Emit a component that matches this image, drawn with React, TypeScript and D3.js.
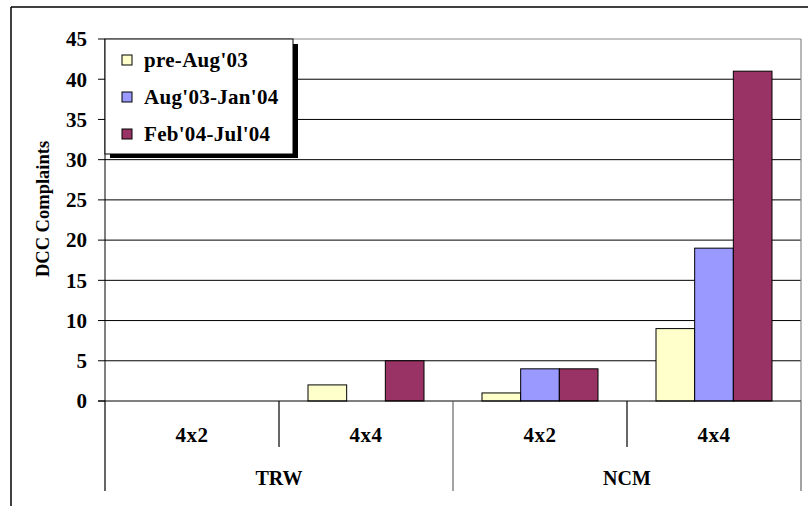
import React from "react";
import * as d3 from "d3";

const groups = ["TRW", "NCM"];
const categories = ["4x2", "4x4", "4x2", "4x4"];
const categoryGroup = [0, 0, 1, 1];
const seriesNames = ["pre-Aug'03", "Aug'03-Jan'04", "Feb'04-Jul'04"];
const seriesColors = ["#FFFFCC", "#9999FF", "#993366"];
const preAug03 = [0, 2, 1, 9];
const aug03Jan04 = [0, 0, 4, 19];
const feb04Jul04 = [0, 5, 4, 41];
const yTicks = [0, 5, 10, 15, 20, 25, 30, 35, 40, 45];

const W = 808;
const H = 506;
const FONT = "'Liberation Serif', 'Times New Roman', serif";

export default function App() {
  const series = [preAug03, aug03Jan04, feb04Jul04];
  const left = 105;
  const right = 801;
  const top = 39;
  const bottom = 401;

  const x = d3
    .scaleBand<number>()
    .domain(d3.range(categories.length))
    .range([left, right])
    .paddingInner(0)
    .paddingOuter(0);
  const y = d3.scaleLinear().domain([0, 45]).range([bottom, top]);
  const cw = x.bandwidth();
  const bw = cw / 4.5;
  const gap = (cw - 3 * bw) / 2;

  return (
    <svg
      width={W}
      height={H}
      style={{ position: "absolute", left: 0, top: 0, background: "#fff" }}
      fontFamily={FONT}
    >
      <rect x={0} y={0} width={W} height={H} fill="#fff" />
      {/* outer border */}
      <line x1={11} y1={7} x2={W} y2={7} stroke="#000" strokeWidth={1.5} />
      <line x1={11} y1={7} x2={11} y2={H} stroke="#000" strokeWidth={1.5} />

      {/* gridlines */}
      {yTicks.slice(1).map((t) => (
        <line
          key={"g" + t}
          x1={left}
          x2={right}
          y1={y(t)}
          y2={y(t)}
          stroke={t === 45 ? "#888" : "#000"}
          strokeWidth={1}
        />
      ))}
      {/* plot right border */}
      <line x1={right} x2={right} y1={top} y2={bottom} stroke="#888" strokeWidth={1.2} />

      {/* bars */}
      {series.map((vals, si) =>
        vals.map((v, ci) =>
          v > 0 ? (
            <rect
              key={`b${si}-${ci}`}
              x={(x(ci) as number) + gap + si * bw}
              y={y(v)}
              width={bw}
              height={y(0) - y(v)}
              fill={seriesColors[si]}
              stroke="#000"
              strokeWidth={1}
            />
          ) : null
        )
      )}

      {/* y axis */}
      <line x1={left} x2={left} y1={top} y2={bottom} stroke="#000" strokeWidth={1} />
      <line x1={left - 7} x2={right} y1={y(0)} y2={y(0)} stroke="#000" strokeWidth={1} />
      {yTicks.map((t) => (
        <g key={"t" + t}>
          <line x1={left - 7} x2={left} y1={y(t)} y2={y(t)} stroke="#000" strokeWidth={1} />
          <text
            x={87}
            y={y(t)}
            dy="0.35em"
            textAnchor="end"
            fontSize={21}
            fontWeight="bold"
          >
            {t}
          </text>
        </g>
      ))}

      {/* category dividers */}
      {d3.range(categories.length + 1).map((i) => {
        const xx = i < categories.length ? (x(i) as number) : right;
        const outer = i === 0 || i === categories.length || categoryGroup[i] !== categoryGroup[i - 1];
        return (
          <line
            key={"d" + i}
            x1={xx}
            x2={xx}
            y1={bottom}
            y2={outer ? 491 : 447}
            stroke={outer && i !== 0 ? "#666" : "#000"}
            strokeWidth={1.2}
          />
        );
      })}
      {categories.map((c, i) => (
        <text
          key={"c" + i}
          x={(x(i) as number) + cw / 2}
          y={435}
          dy="0.35em"
          textAnchor="middle"
          fontSize={21}
          fontWeight="bold"
          letterSpacing={0.5}
        >
          {c}
        </text>
      ))}
      {groups.map((g, gi) => {
        const idx = categoryGroup.map((v, i) => (v === gi ? i : -1)).filter((i) => i >= 0);
        const x0 = x(idx[0]) as number;
        const x1 = (x(idx[idx.length - 1]) as number) + cw;
        return (
          <text
            key={"grp" + g}
            x={(x0 + x1) / 2}
            y={478}
            dy="0.35em"
            textAnchor="middle"
            fontSize={20}
            fontWeight="bold"
          >
            {g}
          </text>
        );
      })}

      {/* y title */}
      <text
        transform={`translate(43,${209}) rotate(-90)`}
        textAnchor="middle"
        dy="0.35em"
        fontSize={18.5}
        fontWeight="bold"
      >
        DCC Complaints
      </text>

      {/* legend */}
      <rect x={110} y={44} width={188} height={114} fill="#000" />
      <rect x={105} y={39} width={188} height={115} fill="#fff" stroke="#000" strokeWidth={1} />
      {seriesNames.map((s, i) => (
        <g key={"l" + i}>
          <rect
            x={122}
            y={60 + i * 37 - 5}
            width={10}
            height={10}
            fill={seriesColors[i]}
            stroke="#000"
            strokeWidth={1}
          />
          <text
            x={144}
            y={60 + i * 37}
            dy="0.35em"
            fontSize={21}
            fontWeight="bold"
            letterSpacing={0.3}
          >
            {s}
          </text>
        </g>
      ))}
    </svg>
  );
}
